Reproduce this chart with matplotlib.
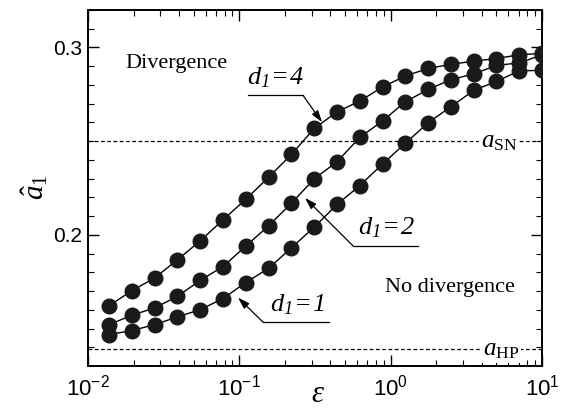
import math
import matplotlib
matplotlib.use("Agg")
import matplotlib.pyplot as plt
from matplotlib.ticker import FuncFormatter, MultipleLocator, LogLocator, NullFormatter

plt.rcParams['font.family'] = 'Liberation Sans'
plt.rcParams['mathtext.fontset'] = 'custom'
plt.rcParams['mathtext.rm'] = 'Liberation Serif'
plt.rcParams['mathtext.it'] = 'Liberation Serif:italic'
plt.rcParams['mathtext.bf'] = 'Liberation Serif:italic'   # used for fully italic labels
plt.rcParams['mathtext.sf'] = 'Liberation Sans'

# coupling strength (x) and amplitude threshold for each d1
eps = [0.0138, 0.0195, 0.0276, 0.039, 0.0552, 0.078, 0.110, 0.156, 0.221, 0.3125,
       0.442, 0.625, 0.884, 1.25, 1.77, 2.5, 3.54, 5.0, 7.07, 10.0]
a_d4 = [0.1622, 0.1702, 0.1770, 0.1867, 0.1968, 0.2080, 0.2189, 0.2307, 0.2429, 0.2568,
        0.2656, 0.2714, 0.2789, 0.2848, 0.2888, 0.2910, 0.2927, 0.2941, 0.2961, 0.2968]
a_d2 = [0.1521, 0.1571, 0.1610, 0.1672, 0.1757, 0.1831, 0.1939, 0.2048, 0.2169, 0.2299,
        0.2390, 0.2520, 0.2608, 0.2710, 0.2776, 0.2828, 0.2859, 0.2904, 0.2918, 0.2960]
a_d1 = [0.1468, 0.1489, 0.1521, 0.1562, 0.1601, 0.1660, 0.1745, 0.1821, 0.1931, 0.2041,
        0.2162, 0.2263, 0.2378, 0.2489, 0.2598, 0.2684, 0.2771, 0.2819, 0.2875, 0.2878]
a_SN = 0.25
a_HP = 0.139

fig = plt.figure(figsize=(5.7, 4.11), dpi=100)
ax = fig.add_axes([0.1544, 0.1095, 0.7965, 0.8662])

for a in (a_d4, a_d2, a_d1):
    ax.plot(eps, a, '-', color='black', lw=1.0, marker='o', ms=10.5,
            mfc='#1a1a1a', mec='#1a1a1a', zorder=3)

ax.axhline(a_SN, color='black', lw=0.9, ls=(0, (3, 2)), zorder=1)
ax.axhline(a_HP, color='black', lw=0.9, ls=(0, (3, 2)), zorder=1)

ax.set_xscale('log')
ax.set_xlim(0.01, 10)
ax.set_ylim(0.13, 0.32)

ax.yaxis.set_major_locator(MultipleLocator(0.1))
ax.yaxis.set_minor_locator(MultipleLocator(0.01))
ax.yaxis.set_major_formatter(FuncFormatter(lambda v, p: '%.1f' % v))
ax.xaxis.set_major_locator(LogLocator(base=10))
ax.xaxis.set_minor_locator(LogLocator(base=10, subs=range(2, 10)))
ax.xaxis.set_minor_formatter(NullFormatter())
ax.xaxis.set_major_formatter(FuncFormatter(
    lambda v, p: r'$\mathsf{10^{%d}}$' % round(math.log10(v))))

ax.tick_params(which='both', direction='in', top=True, right=True)
ax.tick_params(axis='x', labelsize=16, pad=6)
ax.tick_params(axis='y', labelsize=15, pad=4)
ax.tick_params(which='major', length=8, width=1)
ax.tick_params(which='minor', length=4, width=0.8)
for s in ax.spines.values():
    s.set_linewidth(1.4)

serif = 'Liberation Serif'
ax.text(0.0382, 0.2915, 'Divergence', family=serif, fontsize=16, ha='center', va='center')
ax.text(2.47, 0.1718, 'No divergence', family=serif, fontsize=16, ha='center', va='center')

bb = dict(facecolor='white', edgecolor='none', pad=1)
ax.text(5.2, a_SN, r'$a_{\rm SN}$', fontsize=18, ha='center', va='center', bbox=bb, zorder=2)
ax.text(5.37, a_HP, r'$a_{\rm HP}$', fontsize=18, ha='center', va='center', bbox=bb, zorder=2)

# labels: text, underline (x0, x1, y), which end the leader starts from, arrow tip
labels = [
    (r'$\mathbf{d_1\!=\!4}$', (0.114, 0.2636, 0.2744), 1, (0.352, 0.2601)),
    (r'$\mathbf{d_1\!=\!2}$', (0.564, 1.517, 0.1941), 0, (0.2716, 0.2197)),
    (r'$\mathbf{d_1\!=\!1}$', (0.1434, 0.390, 0.1534), 0, (0.098, 0.1665)),
]
for txt, (x0, x1, yl), end, tip in labels:
    xc = math.sqrt(x0 * x1) * (1.02 if end == 0 else 1.0)
    ax.text(xc, yl + 0.003, txt, fontsize=19, ha='center', va='bottom', zorder=4)
    ax.plot([x0, x1], [yl, yl], color='black', lw=0.9, zorder=4)
    start = (x1, yl) if end == 1 else (x0, yl)
    ax.annotate('', xy=tip, xytext=start,
                arrowprops=dict(arrowstyle='-|>,head_length=0.7,head_width=0.22',
                                color='black', lw=0.9, shrinkA=0, shrinkB=0), zorder=4)

fig.text(35 / 570, 1 - 187 / 411, r'$\hat{a}_1$', fontsize=21, rotation=90,
         ha='center', va='center')
fig.text(318 / 570, 1 - 409 / 411, r'$\varepsilon$', fontsize=22, ha='center', va='bottom')

fig.savefig('out.png', dpi=100)
